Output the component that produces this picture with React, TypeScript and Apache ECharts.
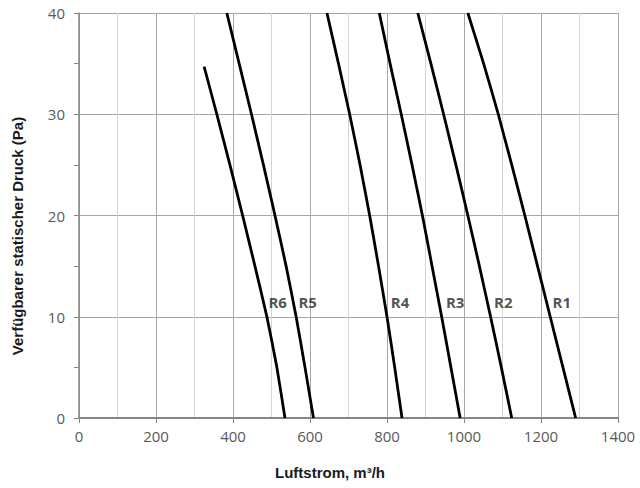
import React, { useEffect, useRef } from "react";
import * as echarts from "echarts";

// Pressure levels (Pa) at which airflow was read for each curve
const pressure = [0, 5, 10, 15, 20, 25, 30, 35, 40];
const r1 = [1290, 1257, 1224, 1191, 1158, 1124, 1089, 1051, 1010];
const r2 = [1124, 1097, 1069, 1040, 1010, 979, 947, 914, 880];
const r3 = [990, 966, 942, 917, 892, 865, 837, 808, 780];
const r4 = [839, 820, 800, 778, 755, 730, 703, 674, 644];
const r5 = [609, 587, 564, 538, 509, 479, 448, 416, 384];
const pressureR6 = [0, 5, 10, 15, 20, 25, 30, 34.7];
const r6 = [535, 514, 488, 457, 425, 392, 358, 325];

const curveNames = ["R1", "R2", "R3", "R4", "R5", "R6"];
// label anchor points in data units (airflow, pressure)
const labelFlow = [1254, 1102, 977, 834, 594, 516];
const labelPressure = [11.5, 11.5, 11.5, 11.5, 11.5, 11.5];

const xTicksMax = 1400;
const yTicksMax = 40;

export default function App() {
  const ref = useRef<HTMLDivElement>(null);
  useEffect(() => {
    if (!ref.current) return;
    const chart = echarts.init(ref.current, null, { renderer: "svg" });
    const mk = (xs: number[], ys: number[]) => xs.map((x, i) => [x, ys[i]]);
    const curves = [
      mk(r1, pressure),
      mk(r2, pressure),
      mk(r3, pressure),
      mk(r4, pressure),
      mk(r5, pressure),
      mk(r6, pressureR6),
    ];
    const tickFont = {
      fontFamily: "Open Sans",
      fontSize: 15,
      color: "#595959",
      formatter: (v: number) => String(v),
    };
    chart.setOption({
      animation: false,
      backgroundColor: "#ffffff",
      grid: { left: 79, right: 22, top: 13, bottom: 70 },
      xAxis: {
        type: "value",
        min: 0,
        max: xTicksMax,
        interval: 200,
        axisLine: { show: true, lineStyle: { color: "#868686", width: 2 } },
        axisTick: { show: true, length: 5, lineStyle: { color: "#868686" } },
        minorTick: { show: false, splitNumber: 2 },
        axisLabel: { ...tickFont, margin: 10 },
        splitLine: { show: true, lineStyle: { color: "#a6a6a6", width: 1 } },
        minorSplitLine: { show: true, lineStyle: { color: "#d4d4d4", width: 1 } },
      },
      yAxis: {
        type: "value",
        min: 0,
        max: yTicksMax,
        interval: 10,
        axisLine: { show: true, lineStyle: { color: "#868686", width: 1.5 } },
        axisTick: { show: true, length: 5, lineStyle: { color: "#868686" } },
        minorTick: { show: true, splitNumber: 2, length: 5, lineStyle: { color: "#868686" } },
        axisLabel: { ...tickFont, margin: 14 },
        splitLine: { show: true, lineStyle: { color: "#a6a6a6", width: 1 } },
      },
      series: [
        ...curves.map((d, i) => ({
          type: "line",
          name: curveNames[i],
          data: d,
          showSymbol: false,
          symbol: "none",
          smooth: 0.15,
          lineStyle: { color: "#000000", width: 2.8, join: "round" },
          z: 3,
        })),
        {
          type: "scatter",
          symbolSize: 0,
          data: curveNames.map((n, i) => ({ name: n, value: [labelFlow[i], labelPressure[i]] })),
          label: {
            show: true,
            position: "inside",
            formatter: (p: any) => p.name,
            fontFamily: "Open Sans",
            fontWeight: "bold",
            fontSize: 15,
            color: "#262626",
          },
          z: 4,
        },
      ],
      graphic: [
        {
          type: "text",
          x: 330,
          y: 472,
          style: {
            text: "Luftstrom, m³/h",
            fontFamily: "Liberation Sans",
            fontWeight: "bold",
            fontSize: 15,
            fill: "#1a1a1a",
            textAlign: "center",
            textVerticalAlign: "middle",
          },
        },
        {
          type: "text",
          x: 17,
          y: 236,
          rotation: Math.PI / 2,
          style: {
            text: "Verfügbarer statischer Druck (Pa)",
            fontFamily: "Liberation Sans",
            fontWeight: "bold",
            fontSize: 15,
            fill: "#1a1a1a",
            textAlign: "center",
            textVerticalAlign: "middle",
          },
        },
      ],
    });
    return () => chart.dispose();
  }, []);
  return (
    <div
      ref={ref}
      style={{ position: "fixed", left: 0, top: 0, width: 640, height: 488 }}
    />
  );
}
